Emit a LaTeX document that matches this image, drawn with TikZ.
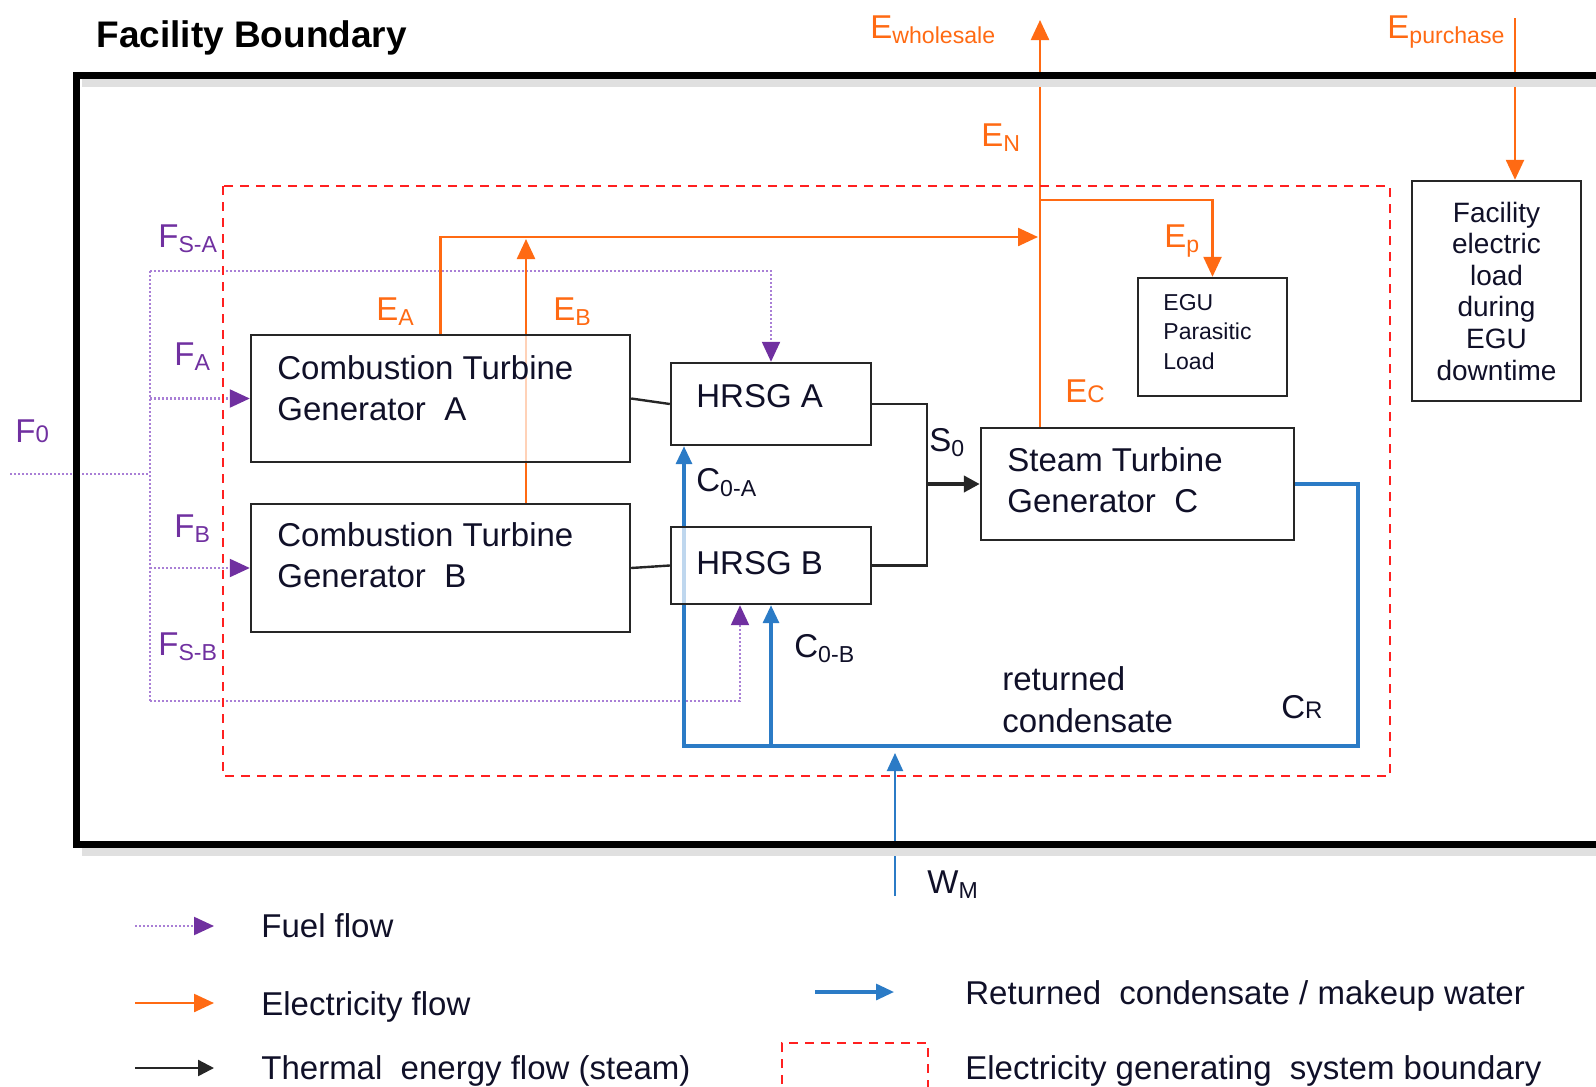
\documentclass[tikz,border=0pt]{standalone}
\usepackage{fontspec}
\setmainfont{Liberation Sans}
\usetikzlibrary{arrows.meta}
\definecolor{fuel}{HTML}{7030A0}
\definecolor{fuell}{HTML}{A97FD6}
\definecolor{elec}{HTML}{FF6A13}
\definecolor{wat}{HTML}{2B7BC6}
\definecolor{egs}{HTML}{FF2020}
\definecolor{ink}{HTML}{101028}
\pgfdeclarelayer{background}
\pgfsetlayers{background,main}
\begin{document}
\begin{tikzpicture}[x=0.5pt,y=-0.5pt,
  box/.style={draw=black!85, line width=1.2pt, fill=white, fill opacity=0.7, text opacity=1, inner sep=0pt},
  btext/.style={font=\fontsize{16.5}{20.5}\selectfont, anchor=base west, inner sep=0pt, align=left, text=ink},
  lab/.style={font=\fontsize{16.5}{20}\selectfont, anchor=base west, inner sep=0pt},
  legtext/.style={font=\fontsize{16.5}{20}\selectfont, anchor=base west, inner sep=0pt, text=ink},
  fuelline/.style={draw=fuell, line width=1.1pt, dash pattern=on 1pt off 1pt},
  fueltip/.style={-{Triangle[length=10pt,width=9pt,color=fuel]}},
  eline/.style={draw=elec, line width=1.2pt},
  etip/.style={-{Triangle[length=10pt,width=9pt]}},
  bline/.style={draw=black!85, line width=1.2pt},
  btip/.style={-{Triangle[length=8pt,width=8pt]}},
  wline/.style={draw=wat, line width=1.6pt},
  wtip/.style={-{Triangle[length=9pt,width=8pt]}},
  egsline/.style={draw=egs, line width=1pt, dash pattern=on 4.5pt off 3.5pt}
]
\useasboundingbox (0,0) rectangle (1596,1087);

% facility boundary
\draw[line width=4pt, black!12] (82,83) -- (1600,83);
\draw[line width=4pt, black!12] (82,852) -- (1600,852);
\draw[line width=3.5pt] (1610,75) -- (76,75) -- (76,844) -- (1610,844);
\node[font=\bfseries\fontsize{18.5}{22}\selectfont, anchor=base west, inner sep=0pt] (title) at (96,47) {Facility Boundary};

% EGS boundary
\draw[egsline] (223,186) rectangle (1390,776);

% boxes
\node[box, minimum width=189.5pt, minimum height=63.5pt] (ctga) at (440.5,398.5) {};
\node[box, minimum width=189.5pt, minimum height=64pt] (ctgb) at (440.5,568) {};
\node[box, minimum width=100pt, minimum height=41pt] (hrsga) at (771,404) {};
\node[box, minimum width=100pt, minimum height=38.5pt] (hrsgb) at (771,565.5) {};
\node[box, minimum width=156.5pt, minimum height=56pt] (stg) at (1137.5,484) {};
\node[box, minimum width=74.5pt, minimum height=59pt] (egu) at (1212.5,337) {};
\node[box, minimum width=84.5pt, minimum height=110pt, align=center, text=ink,
      font=\fontsize{14}{15.8}\selectfont] (fac) at (1496.5,291)
      {Facility\\electric\\load\\during\\EGU\\downtime};

% multi-line text nodes are placed by the baseline of their last line
\node[btext] (ctgat) at (277,420) {Combustion Turbine\\Generator\ \ A};
\node[btext] (ctgbt) at (277,587) {Combustion Turbine\\Generator\ \ B};
\node[btext] (hrsgat) at (696,407) {HRSG\ A};
\node[btext] (hrsgbt) at (696,574) {HRSG\ B};
\node[btext] (stgt) at (1007,512) {Steam Turbine\\Generator\ \ C};
\node[btext, font=\fontsize{11.5}{14.6}\selectfont] (egut) at (1163,369) {EGU\\Parasitic\\Load};

% coordinates
\coordinate (f0s) at (10,474);
\coordinate (f0e) at (150,474);
\coordinate (tr0) at (150,271);
\coordinate (tr1) at (150,701);
\coordinate (eaend) at (1038,237);
\coordinate (wholesale) at (1040,20);
\coordinate (epstart) at (1040,200);
\coordinate (purch) at (1515,18);
\coordinate (merge) at (927,484);
\coordinate (crc) at (1358,746);
\coordinate (wm) at (895,896);
\coordinate (wmend) at (895,753);

\begin{pgfonlayer}{background}
% fuel
\draw[fuelline] (f0s) -- (f0e);
\draw[fuelline] (tr0) -- (tr1);
\draw[fuelline, fueltip] (tr0) -| (hrsga.north);
\draw[fuelline, fueltip] (ctga.west -| tr0) -- (ctga.west);
\draw[fuelline, fueltip] (ctgb.west -| tr0) -- (ctgb.west);
\draw[fuelline, fueltip] (tr1) -| ([xshift=-15.5pt]hrsgb.south);
% electricity
\draw[eline, etip] (ctga.north) |- (eaend);
\draw[eline, etip, shorten >=1pt] ([xshift=42.75pt]ctgb.north) -- ([xshift=42.75pt]ctgb.north |- eaend);
\draw[eline, etip] ([xshift=-48.75pt]stg.north) -- (wholesale);
\draw[eline, etip] (epstart) -| (egu.north);
\draw[eline, etip] (purch) -- (purch |- fac.north);
% steam
\draw[bline] (ctga.east) -- (hrsga.west);
\draw[bline] (ctgb.east) -- (hrsgb.west);
\draw[bline] (hrsga.east) -| (merge);
\draw[bline] (hrsgb.east) -| (merge);
\draw[bline, line width=2pt, btip] (merge) -- (stg.west);
% water
\draw[wline, wtip] (stg.east) -| (crc) -| ([xshift=-43.5pt]hrsga.south);
\draw[wline, wtip] (hrsgb.south |- crc) -- (hrsgb.south);
\draw[wline, line width=1pt, wtip] (wm) -- (wmend);
\end{pgfonlayer}

% labels
\node[lab, text=fuel] (lf0) at (15,442) {F{\fontsize{12}{12}\selectfont 0}};
\node[lab, text=fuel] (lfsa) at (158,247) {F\textsubscript{S-A}};
\node[lab, text=fuel] (lfa) at (174,365) {F\textsubscript{A}};
\node[lab, text=fuel] (lfb) at (174,537) {F\textsubscript{B}};
\node[lab, text=fuel] (lfsb) at (158,655) {F\textsubscript{S-B}};
\node[lab, text=elec] (lea) at (376,320) {E\textsubscript{A}};
\node[lab, text=elec] (leb) at (553,320) {E\textsubscript{B}};
\node[lab, text=elec] (lew) at (870,38) {E\textsubscript{wholesale}};
\node[lab, text=elec] (len) at (981,146) {E\textsubscript{N}};
\node[lab, text=elec] (lep) at (1164,247) {E\textsubscript{p}};
\node[lab, text=elec] (lec) at (1065,402) {E{\fontsize{12}{12}\selectfont C}};
\node[lab, text=elec] (lepu) at (1387,38) {E\textsubscript{purchase}};
\node[lab, text=ink] (ls0) at (929,451) {S\textsubscript{0}};
\node[lab, text=ink] (lc0a) at (696,491) {C\textsubscript{0-A}};
\node[lab, text=ink] (lc0b) at (794,657) {C\textsubscript{0-B}};
\node[lab, text=ink, align=left, font=\fontsize{16.5}{21}\selectfont] (lret) at (1002,732) {returned\\condensate};
\node[lab, text=ink] (lcr) at (1281,718) {C{\fontsize{12}{12}\selectfont R}};
\node[lab, text=ink] (lwm) at (927,893) {W\textsubscript{M}};

% legend
\coordinate (lg1a) at (135,926); \coordinate (lg1b) at (214,926);
\coordinate (lg2a) at (135,1003); \coordinate (lg2b) at (214,1003);
\coordinate (lg3a) at (135,1068); \coordinate (lg3b) at (214,1068);
\coordinate (lg4a) at (815,992); \coordinate (lg4b) at (894,992);
\draw[fuelline, fueltip] (lg1a) -- (lg1b);
\draw[eline, etip] (lg2a) -- (lg2b);
\draw[bline, btip] (lg3a) -- (lg3b);
\draw[wline, wtip] (lg4a) -- (lg4b);
\draw[egsline] (782,1100) -- (782,1043) -- (928,1043) -- (928,1100);
\node[legtext] (lt1) at (261,937) {Fuel flow};
\node[legtext] (lt2) at (261,1015) {Electricity flow};
\node[legtext] (lt3) at (261,1079) {Thermal\ \ energy flow (steam)};
\node[legtext] (lt4) at (965,1004) {Returned\ \ condensate / makeup water};
\node[legtext] (lt5) at (965,1079) {Electricity generating\ \ system boundary};
\end{tikzpicture}
\end{document}
